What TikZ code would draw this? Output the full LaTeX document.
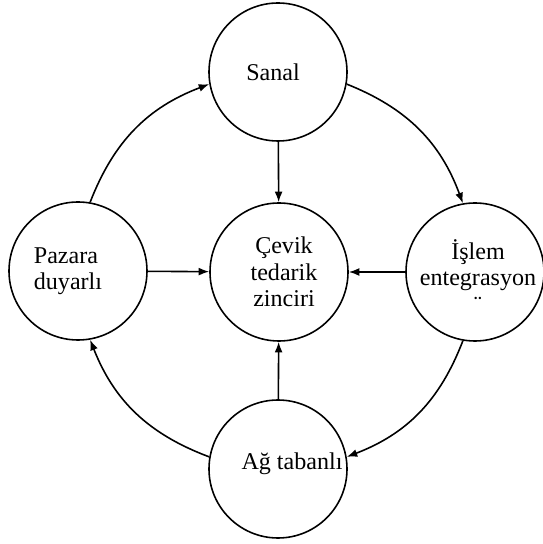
\documentclass[tikz,border=0pt]{standalone}
\usepackage{fontspec}
\setmainfont{Liberation Serif}
\usetikzlibrary{arrows.meta}

\begin{document}
\begin{tikzpicture}[
    ring/.style={draw, circle, minimum size=2.76cm, inner sep=0pt},
    txt/.style={align=center, font=\fontsize{13.7}{15.1}\selectfont},
    >={Latex[length=6pt,width=4.5pt]}, line width=0.9pt]
    \useasboundingbox (0,0) rectangle (10.86,10.88);
    \node[ring, label={[txt,xshift=-1mm]center:Sanal}] (sanal) at (5.56,9.44) {};
    \node[ring, label={[txt,align=left,xshift=-2mm]center:{Pazara\\duyarlı}}] (pazar) at (1.56,5.46) {};
    \node[ring, label={[txt,xshift=1mm]center:{Çevik\\tedarik\\zinciri}}] (cevik) at (5.58,5.44) {};
    \node[ring, label={[txt,xshift=0.6mm,yshift=-0.8mm]center:{İşlem\\entegrasyon\\¨}}] (islem) at (9.50,5.44) {};
    \node[ring, label={[txt,xshift=2.8mm,yshift=1mm]center:Ağ tabanlı}] (ag) at (5.56,1.50) {};
    \draw[<-] (cevik) edge (sanal) edge (pazar) edge (islem) edge (ag);
    \draw[->] (pazar.80) to[bend left=24] (sanal.190);
    \draw[->] (sanal.-10) to[bend left=24] (islem.100);
    \draw[->] (islem.260) to[bend left=24] (ag.10);
    \draw[->] (ag.170) to[bend left=24] (pazar.280);
\end{tikzpicture}
\end{document}
